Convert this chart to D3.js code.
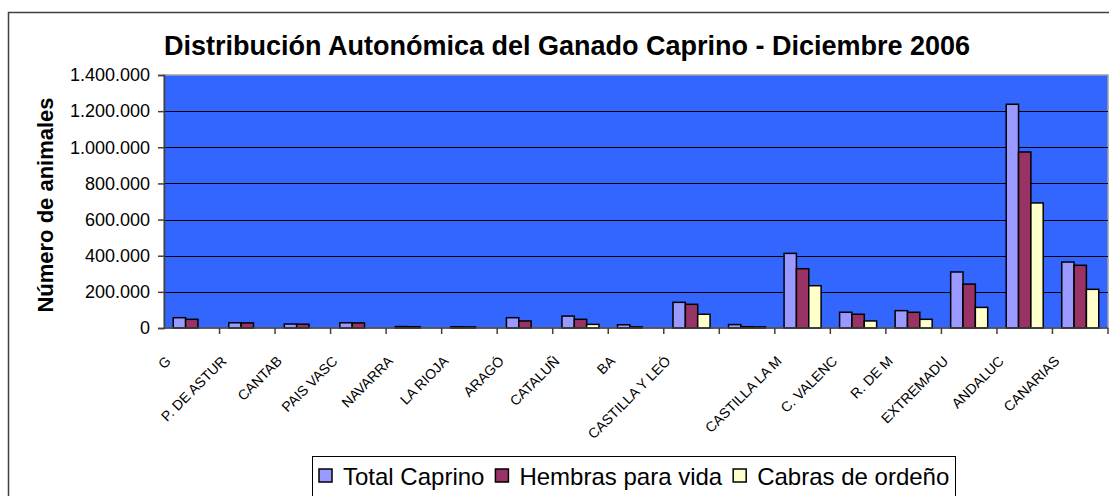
<!DOCTYPE html>
<html>
<head>
<meta charset="utf-8">
<script src="https://cdn.jsdelivr.net/npm/d3@7"></script>
<style>
  body { margin: 0; background: #fff; }
  text { font-family: "Liberation Sans", Arial, sans-serif; }
</style>
</head>
<body>
<script>
// Data

const categories = [
  "Galicia", "P. de Asturias", "Cantabria", "País Vasco", "Navarra",
  "La Rioja", "Aragón", "Cataluña", "Baleares", "Castilla y León",
  "Madrid", "Castilla-La Mancha", "C. Valenciana", "R. de Murcia",
  "Extremadura", "Andalucía", "Canarias"
]

// the labels as they show up (cut off) under the axis
const tickLabels = [
  "G", "P. DE ASTUR", "CANTAB", "PAIS VASC", "NAVARRA",
  "LA RIOJA", "ARAGÓ", "CATALUÑ", "BA", "CASTILLA Y LEÓ",
  "", "CASTILLA LA M", "C. VALENC", "R. DE M",
  "EXTREMADU", "ANDALUC", "CANARIAS"
]

const seriesNames = ["Total Caprino", "Hembras para vida", "Cabras de ordeño"]

const totalCaprino = [57000, 29000, 22000, 29000, 8000, 7000, 57000, 66000, 18000, 142000, 19000, 413000, 87000, 96000, 310000, 1238000, 365000]
const hembrasVida = [48000, 28000, 21000, 28000, 7000, 6000, 39000, 48000, 6000, 131000, 7000, 328000, 76000, 87000, 243000, 974000, 347000]
const cabrasOrdeno = [0, 0, 0, 0, 0, 0, 0, 20000, 0, 76000, 6000, 234000, 39000, 48000, 114000, 692000, 214000]

const yTicks = [0, 200000, 400000, 600000, 800000, 1000000, 1200000, 1400000]

// Dimensions
const width = 1109
const height = 496
const margin = { top: 75, right: 1, bottom: 168, left: 164 }
const plotWidth = width - margin.left - margin.right
const plotHeight = height - margin.top - margin.bottom

const colors = ["#9999FF", "#993366", "#FFFFCC"]

const rows = categories.map((name, i) => ({
  name,
  values: [totalCaprino[i], hembrasVida[i], cabrasOrdeno[i]]
}))

const es = d3.formatLocale({ decimal: ",", thousands: ".", grouping: [3], currency: ["", " €"] })
const fmt = es.format(",d")

const svg = d3.select("body")
  .append("svg")
  .attr("width", width)
  .attr("height", height)

// White background + outer chart frame
svg.append("rect")
  .attr("width", width)
  .attr("height", height)
  .style("fill", "#fff")

svg.append("rect")
  .attr("x", 8.5)
  .attr("y", 12.5)
  .attr("width", width + 20)
  .attr("height", height + 20)
  .style("fill", "none")
  .style("stroke", "#404040")
  .style("stroke-width", 1.5)

// Scales
const x0 = d3.scaleBand()
  .domain(categories)
  .range([0, plotWidth])
  .padding(0)

const x1 = d3.scaleBand()
  .domain(seriesNames)
  .range([0, x0.bandwidth()])
  .paddingInner(0)
  .paddingOuter(0.75)

const y = d3.scaleLinear()
  .domain([0, 1400000])
  .range([plotHeight, 0])

const plot = svg.append("g")
  .attr("transform", `translate(${margin.left}, ${margin.top})`)

// Blue plot area
plot.append("rect")
  .attr("width", plotWidth)
  .attr("height", plotHeight)
  .style("fill", "#3366FF")
  .style("stroke", "#A0A0A0")
  .style("stroke-width", 1.5)

// Gridlines
plot.append("g")
  .selectAll("line")
  .data(yTicks.slice(1, -1))
  .join("line")
  .attr("x1", 0)
  .attr("x2", plotWidth)
  .attr("y1", d => Math.round(y(d)) + 0.5)
  .attr("y2", d => Math.round(y(d)) + 0.5)
  .style("stroke", "#000")
  .style("stroke-width", 1)

// Bars
plot.append("g")
  .selectAll("g")
  .data(rows)
  .join("g")
  .attr("transform", d => `translate(${x0(d.name)}, 0)`)
  .selectAll("rect")
  .data(d => d.values.map((v, k) => ({ key: seriesNames[k], value: v, k })))
  .join("rect")
  .filter(d => d.value > 0)
  .attr("x", d => x1(d.key))
  .attr("y", d => y(d.value))
  .attr("width", x1.bandwidth())
  .attr("height", d => plotHeight - y(d.value))
  .style("fill", d => colors[d.k])
  .style("stroke", "#000")
  .style("stroke-width", 1.5)

// Y axis
const axisY = plot.append("g")
  .call(d3.axisLeft(y).tickValues(yTicks).tickFormat(fmt).tickSize(6).tickPadding(8))

axisY.selectAll("text")
  .style("font-size", "18px")
  .style("fill", "#000")
  .attr("font-family", null)
axisY.selectAll("line, path").style("stroke", "#404040").style("stroke-width", 1.5)

// X axis, ticks between categories
const axisX = plot.append("g")
  .attr("transform", `translate(0, ${plotHeight})`)

axisX.append("line")
  .attr("x1", 0)
  .attr("x2", plotWidth)
  .style("stroke", "#404040")
  .style("stroke-width", 1.5)

axisX.selectAll(".tick")
  .data(categories)
  .join("line")
  .attr("class", "tick")
  .attr("x1", d => x0(d) + x0.bandwidth())
  .attr("x2", d => x0(d) + x0.bandwidth())
  .attr("y1", 0)
  .attr("y2", 6)
  .style("stroke", "#404040")
  .style("stroke-width", 1.5)

axisX.selectAll(".lbl")
  .data(categories)
  .join("text")
  .attr("class", "lbl")
  .attr("transform", d => `translate(${x0(d) + x0.bandwidth() / 2 - 20}, 34) rotate(-45)`)
  .attr("text-anchor", "end")
  .style("font-size", "14px")
  .style("fill", "#000")
  .text((d, i) => tickLabels[i])

// Title
svg.append("text")
  .attr("x", 567)
  .attr("y", 55)
  .attr("text-anchor", "middle")
  .style("font-size", "27px")
  .style("font-weight", "bold")
  .text("Distribución Autonómica del Ganado Caprino - Diciembre 2006")

// Y label
svg.append("text")
  .attr("transform", "translate(53, 205) rotate(-90)")
  .attr("text-anchor", "middle")
  .style("font-size", "22px")
  .style("font-weight", "bold")
  .text("Número de animales")

// Legend
const legend = svg.append("g")

legend.append("rect")
  .attr("x", 312.5)
  .attr("y", 456.5)
  .attr("width", 643)
  .attr("height", 60)
  .style("fill", "#fff")
  .style("stroke", "#000")
  .style("stroke-width", 1)

let lx = 319
seriesNames.forEach((name, k) => {
  legend.append("rect")
    .attr("x", lx)
    .attr("y", 469)
    .attr("width", 13)
    .attr("height", 13)
    .style("fill", colors[k])
    .style("stroke", "#000")
    .style("stroke-width", 1.5)
  const t = legend.append("text")
    .attr("x", lx + 24)
    .attr("y", 485)
    .style("font-size", "24px")
    .text(name)
  lx += 24 + t.node().getComputedTextLength() + 11
})
</script>
</body>
</html>
